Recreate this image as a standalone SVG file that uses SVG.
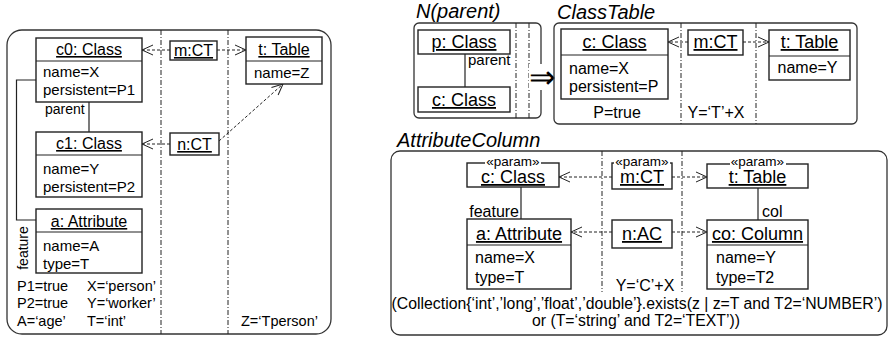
<svg xmlns="http://www.w3.org/2000/svg" width="889" height="337" viewBox="0 0 889 337">
<style>
text{font-family:"Liberation Sans",Arial,sans-serif;fill:#000}
.frame{fill:none;stroke:#333;stroke-width:1.3}
.box{fill:#fff;stroke:#222;stroke-width:1.4}
.sep{stroke:#222;stroke-width:1.2}
.dd{stroke:#222;stroke-width:1;stroke-dasharray:5 2 1 2}
.dash{stroke:#222;stroke-width:1;stroke-dasharray:3 2;fill:none;marker-end:url(#open)}
.link{stroke:#222;stroke-width:1.2;fill:none}
.t16{font-size:16px;text-decoration:underline;text-anchor:middle}
.t18{font-size:18px;text-decoration:underline;text-anchor:middle}
.a15{font-size:15px}
.a16{font-size:16px}
.c14{font-size:14.5px}
.ttl{font-size:20px;font-style:italic}
.param{font-size:13.5px;text-anchor:middle}
.mid{text-anchor:middle}
</style>
<defs>
<marker id="open" markerUnits="userSpaceOnUse" markerWidth="15" markerHeight="13" refX="12" refY="6" orient="auto">
<path d="M1,1 L12,6 L1,11" fill="none" stroke="#222" stroke-width="1"/>
</marker>
</defs>

<!-- Left panel -->
<g id="left-panel">
<rect class="frame" x="7" y="30" width="324" height="304" rx="15"/>
<line class="dd" x1="161" y1="30" x2="161" y2="334"/>
<line class="dd" x1="228" y1="30" x2="228" y2="334"/>
</g>

<g id="connectors-left">
<line class="link" x1="89" y1="102" x2="89" y2="132"/>
<polyline class="link" points="36,80 16.5,80 16.5,220 36,220"/>
<line class="dash" x1="170" y1="50" x2="142" y2="50"/>
<line class="dash" x1="217" y1="50" x2="246" y2="50"/>
<line class="dash" x1="170" y1="144" x2="142" y2="144"/>
<line class="dash" x1="219" y1="141" x2="283" y2="84"/>
<text x="45" y="114" font-size="14">parent</text>
<text transform="translate(28,248) rotate(-90)" font-size="14" text-anchor="middle">feature</text>
</g>

<g id="c0">
<rect class="box" x="36" y="38" width="106" height="64"/>
<line class="sep" x1="36" y1="61" x2="142" y2="61"/>
<text class="t16" x="89" y="55">c0: Class</text>
<text class="a15" x="43" y="77">name=X</text>
<text class="a15" x="43" y="94.5">persistent=P1</text>
</g>

<g id="c1">
<rect class="box" x="36" y="132" width="106" height="65"/>
<line class="sep" x1="36" y1="155" x2="142" y2="155"/>
<text class="t16" x="89" y="149">c1: Class</text>
<text class="a15" x="43" y="173.5">name=Y</text>
<text class="a15" x="43" y="191.5">persistent=P2</text>
</g>

<g id="a-left">
<rect class="box" x="36" y="209" width="106" height="64"/>
<line class="sep" x1="36" y1="232" x2="142" y2="232"/>
<text class="t16" x="89" y="227">a: Attribute</text>
<text class="a15" x="43" y="251">name=A</text>
<text class="a15" x="43" y="269">type=T</text>
</g>

<g id="m-left">
<rect class="box" x="170" y="41" width="47" height="19"/>
<text class="t16" x="193.5" y="56">m:CT</text>
</g>

<g id="n-left">
<rect class="box" x="170" y="133" width="49" height="22"/>
<text class="t16" x="194.5" y="150">n:CT</text>
</g>

<g id="t-left">
<rect class="box" x="246" y="37" width="76" height="47"/>
<line class="sep" x1="246" y1="61" x2="322" y2="61"/>
<text class="t16" x="284" y="55">t: Table</text>
<text class="a15" x="254" y="78">name=Z</text>
</g>

<g id="left-constraints">
<text class="c14" x="17" y="291">P1=true</text>
<text class="c14" x="17" y="308">P2=true</text>
<text class="c14" x="17" y="325.5">A=‘age’</text>
<text class="c14" x="87" y="291">X=‘person’</text>
<text class="c14" x="87" y="308">Y=‘worker’</text>
<text class="c14" x="87" y="325.5">T=‘int’</text>
<text class="c14" x="241" y="325.5">Z=‘Tperson’</text>
</g>

<!-- N(parent) -->
<g id="nparent">
<text class="ttl" x="416" y="18">N(parent)</text>
<rect class="frame" x="414" y="23" width="127" height="95" rx="5"/>
<line class="dd" x1="516" y1="23" x2="516" y2="118"/>
<line class="dd" x1="529" y1="23" x2="529" y2="118"/>
<line class="link" x1="465" y1="54" x2="465" y2="87"/>
<text x="468" y="65" font-size="15">parent</text>
</g>
<g id="p-class">
<rect class="box" x="418" y="30" width="92" height="24"/>
<text class="t18" x="464" y="48">p: Class</text>
</g>
<g id="c-class-n">
<rect class="box" x="418" y="87" width="92" height="25"/>
<text class="t18" x="464" y="106">c: Class</text>
</g>

<g id="implies">
<rect x="529" y="64" width="30" height="26" fill="#fff"/>
<text x="529" y="88" font-family="DejaVu Sans" font-size="32">⇒</text>
</g>

<!-- ClassTable -->
<g id="classtable">
<text class="ttl" x="557" y="19">ClassTable</text>
<rect class="frame" x="554" y="23" width="303" height="101" rx="5"/>
<line class="dd" x1="681" y1="23" x2="681" y2="124"/>
<line class="dd" x1="756" y1="23" x2="756" y2="124"/>
<text class="a16 mid" x="617" y="118">P=true</text>
<text class="a16 mid" x="716" y="118">Y=‘T’+X</text>
</g>
<g id="connectors-ct">
<line class="dash" x1="688" y1="42" x2="668" y2="42"/>
<line class="dash" x1="743" y1="42" x2="769" y2="42"/>
</g>
<g id="c-class-ct">
<rect class="box" x="561" y="29" width="107" height="70"/>
<line class="sep" x1="561" y1="55" x2="668" y2="55"/>
<text class="t18" x="614.5" y="48">c: Class</text>
<text class="a16" x="569" y="74">name=X</text>
<text class="a16" x="569" y="91.5">persistent=P</text>
</g>
<g id="m-ct">
<rect class="box" x="688" y="30" width="55" height="25"/>
<text class="t18" x="715.5" y="48">m:CT</text>
</g>
<g id="t-ct">
<rect class="box" x="769" y="30" width="81" height="50"/>
<line class="sep" x1="769" y1="56" x2="850" y2="56"/>
<text class="t18" x="809.5" y="48">t: Table</text>
<text class="a16" x="777.5" y="73">name=Y</text>
</g>

<!-- AttributeColumn -->
<g id="attributecolumn">
<text class="ttl" x="397" y="147">AttributeColumn</text>
<rect class="frame" x="391" y="151" width="496" height="184" rx="9"/>
<line class="dd" x1="602" y1="151" x2="602" y2="292"/>
<line class="dd" x1="682" y1="151" x2="682" y2="292"/>
<text class="a16 mid" x="645" y="291">Y=‘C’+X</text>
<text class="mid" x="637" y="308.5" font-size="15.8">(Collection{‘int’,’long’,’float’,’double’}.exists(z | z=T and T2=‘NUMBER’)</text>
<text class="mid" x="636" y="326" font-size="15.8">or (T=‘string’ and T2=‘TEXT’))</text>
</g>
<g id="connectors-ac">
<line class="link" x1="521" y1="187" x2="521" y2="219"/>
<line class="link" x1="758" y1="188" x2="758" y2="220"/>
<text class="a16" x="519" y="216.5" text-anchor="end">feature</text>
<text class="a16" x="762" y="217">col</text>
<line class="dash" x1="612" y1="177" x2="559" y2="177"/>
<line class="dash" x1="672" y1="177" x2="707" y2="177"/>
<line class="dash" x1="612" y1="232" x2="571" y2="232"/>
<line class="dash" x1="672" y1="232" x2="707" y2="232"/>
</g>
<g id="c-class-ac">
<rect class="box" x="467" y="163" width="92" height="24"/>
<rect x="485" y="156" width="56" height="11" fill="#fff"/>
<text class="param" x="513" y="165.5">«param»</text>
<text class="t18" x="513" y="183">c: Class</text>
</g>
<g id="m-ac">
<rect class="box" x="612" y="163" width="60" height="26"/>
<rect x="614" y="156" width="56" height="11" fill="#fff"/>
<text class="param" x="642" y="165.5">«param»</text>
<text class="t18" x="642" y="183">m:CT</text>
</g>
<g id="t-ac">
<rect class="box" x="707" y="164" width="101" height="24"/>
<rect x="730" y="156" width="56" height="11" fill="#fff"/>
<text class="param" x="757.5" y="165.5">«param»</text>
<text class="t18" x="757.5" y="183">t: Table</text>
</g>
<g id="a-ac">
<rect class="box" x="467" y="219" width="104" height="70"/>
<line class="sep" x1="467" y1="245" x2="571" y2="245"/>
<text class="t18" x="519" y="240">a: Attribute</text>
<text class="a16" x="475" y="263">name=X</text>
<text class="a16" x="475" y="283">type=T</text>
</g>
<g id="n-ac">
<rect class="box" x="612" y="220" width="60" height="28"/>
<text class="t18" x="642" y="240">n:AC</text>
</g>
<g id="co-ac">
<rect class="box" x="707" y="220" width="101" height="69"/>
<line class="sep" x1="707" y1="245" x2="808" y2="245"/>
<text class="t18" x="757.5" y="240">co: Column</text>
<text class="a16" x="716" y="263">name=Y</text>
<text class="a16" x="716" y="283">type=T2</text>
</g>
</svg>
